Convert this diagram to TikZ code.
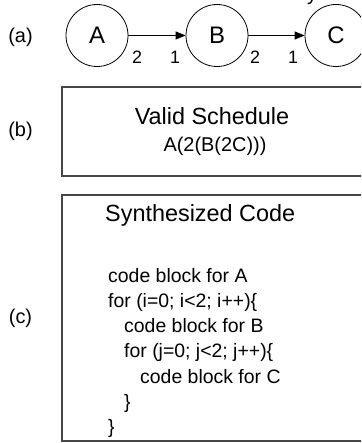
\documentclass[tikz,border=0pt]{standalone}
\usepackage{fontspec}
\setmainfont{Liberation Sans}
\usetikzlibrary{arrows.meta}
\begin{document}
\begin{tikzpicture}[x=1bp,y=-1bp,
  lbl/.style={font=\fontsize{20}{24}\selectfont, inner sep=0},
  actor/.style={draw, circle, minimum size=62bp, inner sep=0, line width=0.8bp, font=\fontsize{24}{28}\selectfont},
  port/.style={font=\fontsize{18}{21}\selectfont, inner sep=0},
  title/.style={font=\fontsize{23.5}{28}\selectfont, inner sep=0},
  sched/.style={font=\fontsize{20}{24}\selectfont, inner sep=0},
  codeline/.style={font=\fontsize{19.5}{24}\selectfont, anchor=base west, inner sep=0},
  boxline/.style={draw=black!72, line width=1.6bp},
  flow/.style={-{Triangle[length=10bp,width=8bp]}, line width=1bp}]
\clip (0,0) rectangle (361,443);
% partial text from above
\node[lbl, anchor=base] (ytop) at (312,1) {y};
% (a) graph
\node[lbl] (la) at (20.5,37) {(a)};
\node[actor] (A) at (97,35.5) {A};
\node[actor] (B) at (217,35.5) {B};
\node[actor] (C) at (336,35.5) {C};
\draw[flow] (A) -- (B);
\draw[flow] (B) -- (C);
\node[port] (p1) at (137,57) {2};
\node[port] (p2) at (175,57) {1};
\node[port] (p3) at (255,57) {2};
\node[port] (p4) at (293,57) {1};
% (b) schedule
\node[lbl] (lb) at (20.5,131) {(b)};
\draw[boxline] (62,87) rectangle (372,176);
\node[title] (vs) at (212,116) {Valid Schedule};
\node[sched] (sc) at (215,146) {A(2(B(2C)))};
% (c) code
\node[lbl] (lc) at (20.5,318) {(c)};
\draw[boxline] (62,195) rectangle (372,441);
\node[title, anchor=west] (sy) at (105,215) {Synthesized Code};
\node[codeline] (c1) at (108,282) {code block for A};
\node[codeline] (c2) at (108,307.3) {for (i=0; i<2; i++)\{};
\node[codeline] (c3) at (124,332.6) {code block for B};
\node[codeline] (c4) at (124,357.9) {for (j=0; j<2; j++)\{};
\node[codeline] (c5) at (140,383.2) {code block for C};
\node[codeline] (c6) at (124,408.5) {\}};
\node[codeline] (c7) at (108,433.8) {\}};
\end{tikzpicture}
\end{document}
